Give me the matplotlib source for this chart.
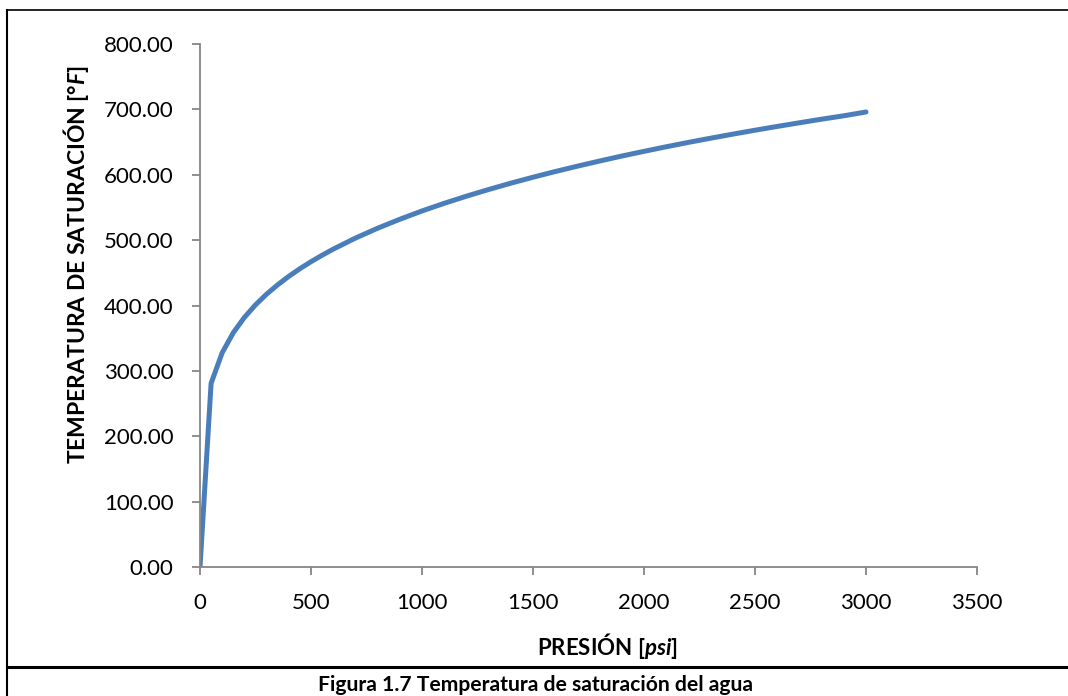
import numpy as np
import matplotlib.pyplot as plt
from matplotlib.lines import Line2D

plt.rcParams['font.family'] = ['Lato', 'DejaVu Sans']
plt.rcParams['mathtext.fontset'] = 'custom'
plt.rcParams['mathtext.rm'] = 'Lato:bold'
plt.rcParams['mathtext.it'] = 'Lato:bold:italic'

# presion [psi] vs temperatura de saturacion [F]
presion = [0, 50, 100, 150, 200, 250, 300, 350, 400, 450, 500, 550, 600,
           700, 800, 900, 1000, 1100, 1200, 1300, 1400, 1500, 1600, 1700,
           1800, 1900, 2000, 2100, 2200, 2300, 2400, 2500, 2600, 2700,
           2800, 2900, 3000]
temp = [0.0, 281.0, 327.8, 358.4, 381.8, 401.0, 417.4, 431.7, 444.6, 456.3,
        467.0, 476.9, 486.2, 503.1, 518.2, 531.9, 544.6, 556.3, 567.2,
        577.4, 587.1, 596.2, 604.9, 613.1, 621.0, 628.6, 635.8, 642.8,
        649.5, 655.9, 662.1, 668.1, 673.9, 679.5, 685.0, 690.2, 696.0]

xticks = np.arange(0, 3501, 500)
yticks = np.arange(0, 801, 100)

fig = plt.figure(figsize=(10.68, 6.96), dpi=100)
ax = fig.add_axes([200/1068, 1-567/696, 777/1068, 523/696])

ax.plot(presion, temp, color='#4a7ebb', lw=3.6, solid_capstyle='round',
        solid_joinstyle='round')

ax.set_xlim(0, 3500)
ax.set_ylim(0, 800)
ax.set_xticks(xticks)
ax.set_yticks(yticks)
ax.set_yticklabels(['%.2f' % v for v in yticks])
for s in ['top', 'right']:
    ax.spines[s].set_visible(False)
for s in ['left', 'bottom']:
    ax.spines[s].set_color('#868686')
    ax.spines[s].set_linewidth(1.3)
ax.tick_params(direction='out', length=6, width=1.3, color='#868686',
               labelsize=16, pad=13)

# titulos de ejes
fig.text(607/1068, 1-646/696, 'PRESIÓN [$psi$]', ha='center', va='center',
         fontsize=16, fontweight='bold')
fig.text(76/1068, 1-265/696, 'TEMPERATURA DE SATURACIÓN [°$F$]', ha='center',
         va='center', rotation=90, fontsize=16.5, fontweight='bold')

# marco tipo tabla
fig.add_artist(Line2D([7/1068, 1], [1-10/696, 1-10/696], color='black', lw=1.2))
fig.add_artist(Line2D([7/1068, 7/1068], [0, 1-10/696], color='black', lw=1.5))
fig.add_artist(Line2D([7/1068, 1], [1-667/696, 1-667/696], color='black', lw=2.2))

fig.text(535/1068, 1-685/696, 'Figura 1.7 Temperatura de saturación del agua',
         ha='center', va='center', fontsize=15.2, fontweight='bold')

fig.savefig('out.png', dpi=100)
